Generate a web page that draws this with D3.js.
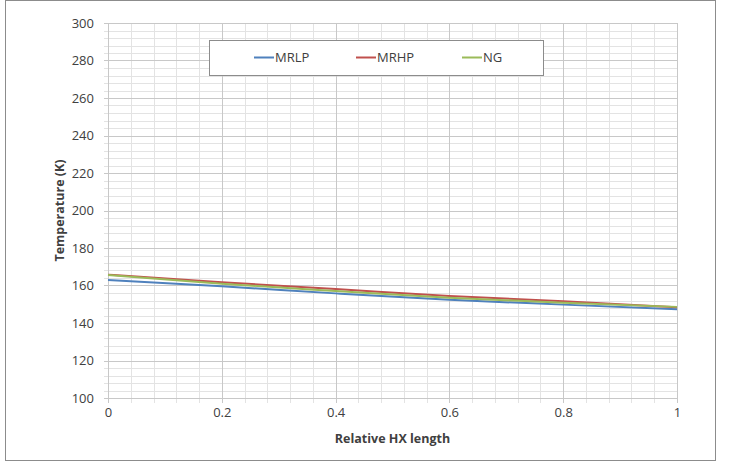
<!DOCTYPE html>
<html><head><meta charset="utf-8">
<script src="https://cdn.jsdelivr.net/npm/d3@7"></script>
<style>body{margin:0;background:#fff;} svg{display:block;}</style>
</head><body>
<svg id="c" width="739" height="462"></svg>
<script>
const xs = [0, 0.2, 0.4, 0.6, 0.8, 1.0];
const MRLP = [162.9, 159.6, 155.8, 152.4, 149.8, 147.3];
const MRHP = [165.8, 161.7, 158.1, 154.4, 151.6, 148.4];
const NG   = [165.6, 160.9, 157.1, 153.5, 150.8, 148.6];
const seriesNames = ["MRLP", "MRHP", "NG"];
const xTicks = [0, 0.2, 0.4, 0.6, 0.8, 1];
const yTicks = [100, 120, 140, 160, 180, 200, 220, 240, 260, 280, 300];

const colors = {MRLP:"#4F81BD", MRHP:"#C0504D", NG:"#9BBB59"};
const seriesData = {MRLP, MRHP, NG};

const svg = d3.select("#c");
const font = "Open Sans, Liberation Sans, sans-serif";
svg.append("rect").attr("x",5.5).attr("y",0.5).attr("width",710).attr("height",460)
  .attr("fill","#fff").attr("stroke","#8c8c8c").attr("stroke-width",1);

const L=108, R=677, T=23, B=398;
const x = d3.scaleLinear().domain([0,1]).range([L,R]);
const y = d3.scaleLinear().domain([100,300]).range([B,T]);

const g = svg.append("g");
// minor grid
const minorX = d3.range(0, 1.0001, 0.04);
const minorY = d3.range(100, 300.001, 4);
g.selectAll(".mx").data(minorX).enter().append("line")
  .attr("x1",d=>Math.round(x(d))+0.5).attr("x2",d=>Math.round(x(d))+0.5)
  .attr("y1",T).attr("y2",B+5).attr("stroke","#e3e3e3");
g.selectAll(".my").data(minorY).enter().append("line")
  .attr("y1",d=>Math.round(y(d))+0.5).attr("y2",d=>Math.round(y(d))+0.5)
  .attr("x1",L-4).attr("x2",R).attr("stroke","#e3e3e3");
// major grid
g.selectAll(".Mx").data(xTicks).enter().append("line")
  .attr("x1",d=>Math.round(x(d))+0.5).attr("x2",d=>Math.round(x(d))+0.5)
  .attr("y1",T).attr("y2",B+5).attr("stroke","#c8c8c8");
g.selectAll(".My").data(yTicks).enter().append("line")
  .attr("y1",d=>Math.round(y(d))+0.5).attr("y2",d=>Math.round(y(d))+0.5)
  .attr("x1",L-4).attr("x2",R).attr("stroke","#c8c8c8");

// axes labels via d3 axes
const xAxis = d3.axisBottom(x).tickValues(xTicks).tickSize(0).tickPadding(10).tickFormat(d3.format("~g"));
const ya = d3.axisLeft(y).tickValues(yTicks).tickSize(0).tickPadding(14).tickFormat(d3.format("d"));
const gx = svg.append("g").attr("transform",`translate(0,${B})`).call(xAxis);
const gy = svg.append("g").attr("transform",`translate(${L},0)`).call(ya);
[gx,gy].forEach(a=>{a.select(".domain").remove();
  a.selectAll("text").attr("font-family",font).attr("font-size",13).attr("fill","#404040");});
gx.selectAll("text").attr("dy","0.71em");

// lines
const line = d3.line().x((d,i)=>x(xs[i])).y(d=>y(d)).curve(d3.curveMonotoneX);
seriesNames.forEach(n=>{
  svg.append("path").datum(seriesData[n]).attr("d",line).attr("fill","none")
    .attr("stroke",colors[n]).attr("stroke-width",2);
});

// axis titles
svg.append("text").attr("x",(L+R)/2).attr("y",443).attr("text-anchor","middle")
  .attr("font-family",font).attr("font-size",12.5).attr("font-weight","bold").attr("fill","#404040")
  .text("Relative HX length");
svg.append("text").attr("transform",`translate(64,${(T+B)/2}) rotate(-90)`).attr("text-anchor","middle")
  .attr("font-family",font).attr("font-size",12.5).attr("font-weight","bold").attr("fill","#404040")
  .text("Temperature (K)");

// legend
const lg = svg.append("g");
lg.append("rect").attr("x",209.5).attr("y",40.5).attr("width",334).attr("height",35)
  .attr("fill","#fff").attr("stroke","#8c8c8c");
const lx = [254, 356, 462];
seriesNames.forEach((n,i)=>{
  lg.append("line").attr("x1",lx[i]).attr("x2",lx[i]+20).attr("y1",57.5).attr("y2",57.5)
    .attr("stroke",colors[n]).attr("stroke-width",2);
  lg.append("text").attr("x",lx[i]+21).attr("y",57.5).attr("dy","0.35em")
    .attr("font-family",font).attr("font-size",13).attr("fill","#404040").text(n);
});
</script>
</body></html>
